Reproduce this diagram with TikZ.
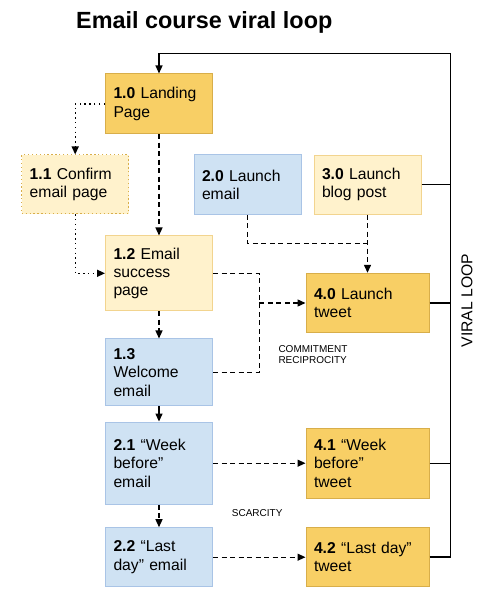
\documentclass[tikz,border=0pt]{standalone}
\usepackage{fontspec}
\setmainfont{Liberation Sans}
\usetikzlibrary{arrows.meta}
\definecolor{dkyfill}{HTML}{F8CF65}
\definecolor{dkyline}{HTML}{D8AE4A}
\definecolor{ltyfill}{HTML}{FFF2CC}
\definecolor{ltyline}{HTML}{F2D48F}
\definecolor{bfill}{HTML}{CFE2F3}
\definecolor{bline}{HTML}{A9C4E6}
\begin{document}
\begin{tikzpicture}[x=1pt,y=-1pt,
  box/.style={rectangle, line width=1pt, inner xsep=8pt, inner ysep=0pt,
    align=left, anchor=center, font=\fontsize{15.7}{18.3}\selectfont},
  narrow/.style={box, text width=91pt, minimum width=107pt},
  wide/.style={box, text width=107pt, minimum width=123pt},
  dky/.style={fill=dkyfill, draw=dkyline},
  lty/.style={fill=ltyfill, draw=ltyline},
  blu/.style={fill=bfill, draw=bline},
  conn/.style={line width=1.3pt, black},
  dashconn/.style={conn, dash pattern=on 5pt off 3.5pt},
  dotconn/.style={conn, line width=1.4pt, dash pattern=on 1.4pt off 3.4pt},
  arr/.style={-{Triangle[length=8pt,width=7pt]}},
  small/.style={font=\fontsize{10}{11}\selectfont, inner sep=0pt, anchor=base west}
]
\useasboundingbox (0,0) rectangle (495,600);

\node[anchor=base west, inner sep=0pt, font=\fontsize{23.4}{26}\selectfont\bfseries] (title) at (76,28.3) {Email course viral loop};

\node[narrow, dky, minimum height=59.7pt] (n10) at (159,103.8) {\textbf{1.0} Landing\\Page};
\node[narrow, fill=ltyfill, draw=dkyline, dash pattern=on 1.3pt off 2.6pt, minimum height=58.7pt] (n11) at (75.2,184.3) {\textbf{1.1} Confirm\\email page};
\node[narrow, blu, minimum height=59.3pt] (n20) at (247.5,184.6) {\textbf{2.0} Launch\\email};
\node[narrow, lty, minimum height=59pt] (n30) at (367.5,184.5) {\textbf{3.0} Launch\\blog post};
\node[narrow, lty, minimum height=74.7pt] (n12) at (159,273.3) {\textbf{1.2} Email\\success\\page};
\node[narrow, blu, minimum height=66.7pt] (n13) at (159,372.3) {\textbf{1.3}\\Welcome\\email};
\node[wide, dky, minimum height=59.4pt] (n40) at (367.5,303) {\textbf{4.0} Launch\\tweet};
\node[narrow, blu, minimum height=82.3pt] (n21) at (159,463.2) {\textbf{2.1} “Week\\before”\\email};
\node[narrow, blu, minimum height=59pt] (n22) at (159,557.2) {\textbf{2.2} “Last\\day” email};
\node[wide, dky, minimum height=70pt] (n41) at (367.5,463.3) {\textbf{4.1} “Week\\before”\\tweet};
\node[wide, dky, minimum height=59.4pt] (n42) at (367.5,557) {\textbf{4.2} “Last day”\\tweet};

\node[rotate=90, inner sep=0pt, font=\fontsize{15.7}{18.3}\selectfont] (viral) at (467,300.5) {VIRAL LOOP};
\node[small] (commit) at (278.3,352.3) {COMMITMENT};
\node[small] (recip) at (278.3,363.3) {RECIPROCITY};
\node[small] (scarc) at (231.7,516.7) {SCARCITY};

% coordinates
\coordinate (lt) at (450.7,53.3);
\coordinate (jx) at (259.3,303);
\coordinate (jy) at (367.5,243.3);
\coordinate (d1) at (75.7,103.8);

% viral loop
\draw[conn, arr] (n42.east) -| (lt) -| (n10.north);
\draw[conn] (n30.east) -- (n30.east -| lt);
\draw[conn] (n40.east) -- (n40.east -| lt);
\draw[conn] (n41.east) -- (n41.east -| lt);

% dotted path 1.0 -> 1.1 -> 1.2
\draw[dotconn, arr] (n10.west) -| (n11.north);
\draw[dotconn, arr] (n11.south) |- (n12.west);

% dashed main chain
\draw[dashconn, arr] (n10.south) -- (n12.north);
\draw[dashconn, arr] (n12.south) -- (n13.north);
\draw[conn, arr] (n13.south) -- (n21.north);
\draw[dashconn, arr] (n21.south) -- (n22.north);

% to launch tweet
\draw[dashconn] (n12.east) -| (jx);
\draw[dashconn] (n13.east) -| (jx);
\draw[dashconn, arr] (jx) -- (n40.west);
\draw[dashconn] (n20.south) |- (jy);
\draw[dashconn, arr] (n30.south) -- (n40.north);

% horizontal
\draw[dashconn, arr] (n21.east) -- (n21.east -| n41.west);
\draw[dashconn, arr] (n22.east) -- (n22.east -| n42.west);
\end{tikzpicture}
\end{document}
